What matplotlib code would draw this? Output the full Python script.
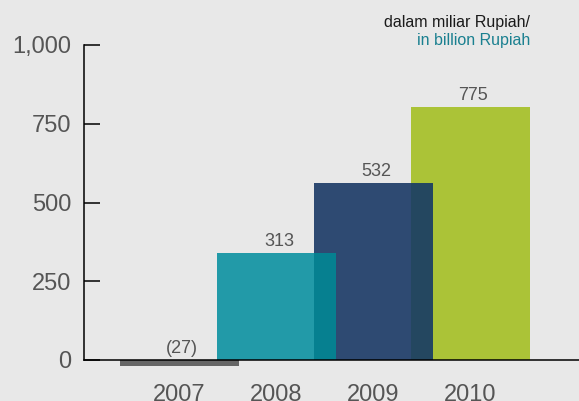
import numpy as np
import matplotlib.pyplot as plt

plt.rcParams['font.family'] = ['Liberation Sans', 'DejaVu Sans']

years = ['2007', '2008', '2009', '2010']
bar_heights = [-20, 340, 562, 803]   # drawn bar tops
value_labels = ['(27)', '313', '532', '775']
bar_colors = ['#666666', '#229aa8', '#2e4a72', '#abc337']
overlap_colors = ['#666666', '#068090', '#244760']

bg = '#e8e8e8'
fig = plt.figure(figsize=(5.79, 4.01), dpi=100, facecolor=bg)
ax = fig.add_axes([84 / 579, 41 / 401, 495 / 579, 315 / 401], facecolor=bg)

x = np.arange(len(years))
w = 1.226
ax.bar(x, bar_heights, width=w, color=bar_colors, clip_on=False, zorder=2)

# darker band where neighbouring bars overlap
for i in range(1, len(years) - 1):
    h = min(bar_heights[i], bar_heights[i + 1])
    ax.bar(i + 0.5, h, width=w - 1, color=overlap_colors[i], zorder=3)

for xi, h, lab in zip(x, bar_heights, value_labels):
    top = max(h, 0)
    ax.text(xi + 0.03, top + 10, lab, ha='center', va='bottom',
            fontsize=13, color='#555555')

ax.set_xlim(-0.98, 4.12)
ax.set_ylim(0, 1000)
ax.set_yticks([0, 250, 500, 750, 1000])
ax.set_yticklabels(['0', '250', '500', '750', '1,000'])
ax.set_xticks(x)
ax.set_xticklabels(years)

for s in ['top', 'right']:
    ax.spines[s].set_visible(False)
for s in ['left', 'bottom']:
    ax.spines[s].set_linewidth(1.1)
    ax.spines[s].set_color('black')
    ax.spines[s].set_zorder(4)

ax.tick_params(axis='y', direction='in', length=11.5, width=1.1,
               labelsize=17, labelcolor='#555555', pad=9)
ax.tick_params(axis='x', length=0, labelsize=17, labelcolor='#555555', pad=17)

fig.text(530 / 579, 1 - 23 / 401, 'dalam miliar Rupiah/', ha='right',
         va='center', fontsize=11.5, color='#1a1a1a')
fig.text(530 / 579, 1 - 40 / 401, 'in billion Rupiah', ha='right',
         va='center', fontsize=11.5, color='#1a8090')

fig.savefig('out.png', dpi=100, facecolor=bg)
